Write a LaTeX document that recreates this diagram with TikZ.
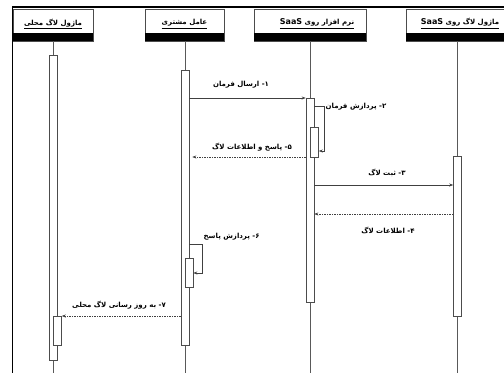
\documentclass[tikz,border=0pt]{standalone}
\usepackage{fontspec}
\setmainfont{DejaVu Sans}
\newfontfamily\arabicfont[Script=Arabic]{DejaVu Sans}
\TeXXeTstate=1
\usetikzlibrary{arrows.meta}
\begin{document}
\begin{tikzpicture}[x=1pt,y=-1pt,
  hdr/.style={draw=black!70, fill=white, line width=0.6pt, inner sep=0},
  band/.style={fill=black},
  htext/.style={font=\arabicfont\bfseries\fontsize{7}{8}\selectfont, inner sep=0.5pt},
  lbl/.style={font=\arabicfont\bfseries\fontsize{7}{8}\selectfont, inner sep=0.5pt},
  life/.style={draw=black!65, line width=0.6pt},
  act/.style={draw=black!70, fill=white, line width=0.6pt, minimum width=8pt, inner sep=0},
  msg/.style={draw=black!75, line width=0.6pt, -{Stealth[length=4pt,width=3pt]}},
  ret/.style={draw=black!75, line width=0.6pt, densely dashed, dash pattern=on 1.5pt off 1pt, -{Stealth[length=4pt,width=3pt]}}]
\useasboundingbox (0,0) rectangle (504,373);
\fill[white] (0,0) rectangle (504,373);
% frame
\draw[line width=1.6pt] (12,7) -- (504,7);
\draw[line width=1pt] (12,7) -- (12,373);
% header boxes
\node[hdr, minimum width=80pt, minimum height=32pt] (h1) at (53,25) {};
\node[hdr, minimum width=79pt, minimum height=32pt] (h2) at (184.5,25) {};
\node[hdr, minimum width=112pt, minimum height=32pt] (h3) at (310,25) {};
\node[hdr, minimum width=100pt, minimum height=32pt] (h4) at (456,25) {};
\foreach \h in {h1,h2,h3,h4}{\fill[band] (\h.south west) rectangle ([yshift=8pt]\h.south east);}
\node[htext] (t1) at (53,24) {\underline{\beginR ماژول لاگ محلی\endR}};
\node[htext] (t2) at (184.5,24) {\underline{\beginR عامل مشتری\endR}};
\node[htext] (t3) at (317,23.5) {\underline{\beginR نرم افزار روی \beginL{\fontsize{8}{9}\selectfont SaaS}\endL\endR}};
\node[htext] (t4) at (460,23.5) {\underline{\beginR ماژول لاگ روی \beginL{\fontsize{8}{9}\selectfont SaaS}\endL\endR}};
% lifelines
\coordinate (b1) at (53,373); \coordinate (b2) at (185,373);
\coordinate (b3) at (310,373); \coordinate (b4) at (457.5,373);
\draw[life] (h1.south) -- (b1);
\draw[life] (h2.south -| b2) -- (b2);
\draw[life] (h3.south) -- (b3);
\draw[life] (h4.south -| b4) -- (b4);
% activation bars
\node[act, minimum height=305pt] (a1) at (53,207.5) {};
\node[act, minimum height=275pt] (a2) at (185,207.5) {};
\node[act, minimum height=204pt] (a3) at (310,200) {};
\node[act, minimum height=160pt] (a4) at (457.5,236) {};
\node[act, minimum height=30pt] (n3) at (314.5,142) {};
\node[act, minimum height=29pt] (n2) at (189,272.5) {};
\node[act, minimum height=29pt] (n1) at (57.5,330.5) {};
% y levels
\coordinate (y1) at (0,98);
\coordinate (y5) at (0,157);
\coordinate (y3) at (0,185);
\coordinate (y4) at (0,214);
\coordinate (y7) at (0,316);
\coordinate (s2r) at (324,106); \coordinate (s2b) at (324,151);
\coordinate (s6r) at (202,244); \coordinate (s6b) at (202,273);
% messages
\draw[msg] (a2.east |- y1) -- (a3.west |- y1);
\draw[msg] (a3.east |- s2r) -- (s2r) -- (s2b) -- (n3.east |- s2b);
\draw[ret] (a3.west |- y5) -- ([xshift=3pt]a2.east |- y5);
\draw[msg] (a3.east |- y3) -- (a4.west |- y3);
\draw[ret] (a4.west |- y4) -- (a3.east |- y4);
\draw[msg] (a2.east |- s6r) -- (s6r) -- (s6b) -- (n2.east |- s6b);
\draw[ret] (a2.west |- y7) -- (n1.east |- y7);
% labels
\node[lbl] (l1) at (241,85) {\beginR ۱- ارسال فرمان\endR};
\node[lbl, anchor=west] (l2) at (325,107) {\beginR ۲- پردازش فرمان\endR};
\node[lbl] (l3) at (387,173) {\beginR ۳- ثبت لاگ\endR};
\node[lbl] (l4) at (388,230) {\beginR ۴- اطلاعات لاگ\endR};
\node[lbl] (l5) at (252,147) {\beginR ۵- پاسخ و اطلاعات لاگ\endR};
\node[lbl, anchor=west] (l6) at (203,237) {\beginR ۶- پردازش پاسخ\endR};
\node[lbl] (l7) at (119,305) {\beginR ۷- به روز رسانی لاگ محلی\endR};
\end{tikzpicture}
\end{document}
